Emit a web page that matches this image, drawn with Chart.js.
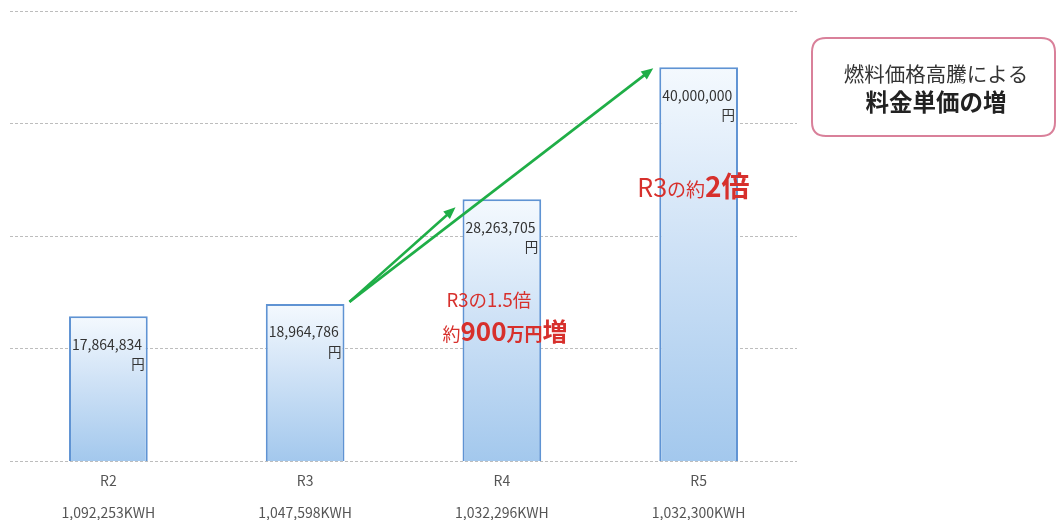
<!DOCTYPE html>
<html lang="ja">
<head>
<meta charset="utf-8">
<script src="https://cdn.jsdelivr.net/npm/chart.js@4.4.1/dist/chart.umd.min.js"></script>
<style>
  html, body { margin: 0; padding: 0; background: #fff; }
  #wrap { width: 1057px; height: 520px; position: relative; }
</style>
</head>
<body>
<div id="wrap"><canvas id="costChart"></canvas></div>
<script>
const years = ['R2', 'R3', 'R4', 'R5'];
const costs = [17864834, 18964786, 28263705, 40000000];
const costLabels = ['17,864,834', '18,964,786', '28,263,705', '40,000,000'];
const kwhLabels = ['1,092,253KWH', '1,047,598KWH', '1,032,296KWH', '1,032,300KWH'];

const JP = '"Noto Sans CJK JP", "Noto Sans", sans-serif';
const RED = '#d7302c';
const GREEN = '#1fae47';

function barFill(context) {
    const chart = context.chart;
    const y = chart.scales.y;
    if (!chart.chartArea || !y || context.raw == null) return '#c6def5';
    const top = y.getPixelForValue(context.raw);
    const bottom = y.getPixelForValue(y.min);
    if (!isFinite(top) || !isFinite(bottom)) return '#c6def5';
    const g = chart.ctx.createLinearGradient(0, top, 0, bottom);
    g.addColorStop(0, '#f4f9fe');
    g.addColorStop(0.45, '#cfe2f6');
    g.addColorStop(1, '#a3c8ed');
    return g;
}

function drawRuns(ctx, x, y, runs) {
    ctx.textBaseline = 'alphabetic';
    ctx.textAlign = 'left';
    runs.forEach(r => {
        ctx.font = r.font;
        ctx.fillStyle = r.color;
        ctx.fillText(r.text, x, y);
        x += ctx.measureText(r.text).width;
    });
}

function arrow(ctx, x1, y1, x2, y2) {
    const ang = Math.atan2(y2 - y1, x2 - x1);
    const len = 12, half = 5;
    ctx.strokeStyle = GREEN;
    ctx.fillStyle = GREEN;
    ctx.lineWidth = 2.6;
    ctx.beginPath();
    ctx.moveTo(x1, y1);
    ctx.lineTo(x2 - Math.cos(ang) * len * 0.8, y2 - Math.sin(ang) * len * 0.8);
    ctx.stroke();
    ctx.beginPath();
    ctx.moveTo(x2, y2);
    ctx.lineTo(x2 - Math.cos(ang) * len - Math.sin(ang) * half, y2 - Math.sin(ang) * len + Math.cos(ang) * half);
    ctx.lineTo(x2 - Math.cos(ang) * len + Math.sin(ang) * half, y2 - Math.sin(ang) * len - Math.cos(ang) * half);
    ctx.closePath();
    ctx.fill();
}

function roundRect(ctx, x, y, w, h, r) {
    ctx.beginPath();
    ctx.moveTo(x + r, y);
    ctx.lineTo(x + w - r, y);
    ctx.quadraticCurveTo(x + w, y, x + w, y + r);
    ctx.lineTo(x + w, y + h - r);
    ctx.quadraticCurveTo(x + w, y + h, x + w - r, y + h);
    ctx.lineTo(x + r, y + h);
    ctx.quadraticCurveTo(x, y + h, x, y + h - r);
    ctx.lineTo(x, y + r);
    ctx.quadraticCurveTo(x, y, x + r, y);
    ctx.closePath();
}

const annotations = {
    id: 'annotations',
    afterDatasetsDraw(chart) {
        const ctx = chart.ctx;
        const bars = chart.getDatasetMeta(0).data;
        ctx.save();

        // value labels inside bars
        bars.forEach((b, i) => {
            const left = b.x - b.width / 2;
            const right = b.x + b.width / 2;
            ctx.fillStyle = '#333';
            ctx.font = '14px ' + JP;
            ctx.textBaseline = 'middle';
            ctx.textAlign = 'left';
            ctx.fillText(costLabels[i], left + 3, b.y + 28);
            ctx.textAlign = 'right';
            ctx.font = '13.5px ' + JP;
            ctx.fillText('円', right - 3, b.y + 48);
        });

        // arrows from R3
        const r3 = bars[1], r4 = bars[2], r5 = bars[3];
        const sx = r3.x + r3.width / 2 + 5, sy = r3.y - 2;
        arrow(ctx, sx, sy, r4.x - r4.width / 2 - 7, r4.y + 8);
        arrow(ctx, sx, sy, r5.x - r5.width / 2 - 6, r5.y + 1);

        // red notes
        const l4 = r4.x - r4.width / 2;
        drawRuns(ctx, l4 - 16, r4.y + 108, [
            { text: 'R3の1.5倍', font: '18.5px ' + JP, color: RED }
        ]);
        drawRuns(ctx, l4 - 20, r4.y + 142, [
            { text: '約', font: '18px ' + JP, color: RED },
            { text: '900', font: 'bold 26px ' + JP, color: RED },
            { text: '万円', font: 'bold 18px ' + JP, color: RED },
            { text: '増', font: 'bold 25px ' + JP, color: RED }
        ]);
        const l5 = r5.x - r5.width / 2;
        drawRuns(ctx, l5 - 22, r5.y + 130, [
            { text: 'R3', font: '25px ' + JP, color: RED },
            { text: 'の約', font: '19px ' + JP, color: RED },
            { text: '2倍', font: 'bold 28px ' + JP, color: RED }
        ]);

        // callout box
        ctx.strokeStyle = '#d9809a';
        ctx.lineWidth = 2;
        roundRect(ctx, 812, 38, 243, 98, 14);
        ctx.stroke();
        ctx.textAlign = 'center';
        ctx.textBaseline = 'middle';
        ctx.fillStyle = '#333';
        ctx.font = '20.5px ' + JP;
        ctx.fillText('燃料価格高騰による', 936, 74);
        ctx.fillStyle = '#222';
        ctx.font = 'bold 23.5px ' + JP;
        ctx.fillText('料金単価の増', 936, 102);

        ctx.restore();
    }
};

const ctx = document.getElementById('costChart').getContext('2d');
const costChart = new Chart(ctx, {
    type: 'bar',
    data: {
        labels: years.map((y, i) => [y, '', kwhLabels[i]]),
        datasets: [{
            label: '電気料金',
            data: costs,
            backgroundColor: barFill,
            borderColor: '#5f93d3',
            borderWidth: 2,
            borderSkipped: false,
            barPercentage: 0.4,
            categoryPercentage: 1.0
        }]
    },
    options: {
        responsive: true,
        maintainAspectRatio: false,
        animation: false,
        layout: { padding: { left: 10, right: 260, top: 11, bottom: -5 } },
        plugins: {
            legend: { display: false },
            tooltip: { enabled: false }
        },
        scales: {
            x: {
                grid: { display: false },
                border: { display: false },
                ticks: {
                    color: '#555',
                    font: { family: JP, size: 14, lineHeight: '16px' },
                    padding: 4,
                    maxRotation: 0
                }
            },
            y: {
                min: 5000000,
                max: 45000000,
                ticks: { display: false, stepSize: 10000000 },
                grid: { color: '#bdbdbd', lineWidth: 1, drawTicks: false },
                border: { display: false, dash: [3, 2] }
            }
        }
    },
    plugins: [annotations]
});
</script>
</body>
</html>
